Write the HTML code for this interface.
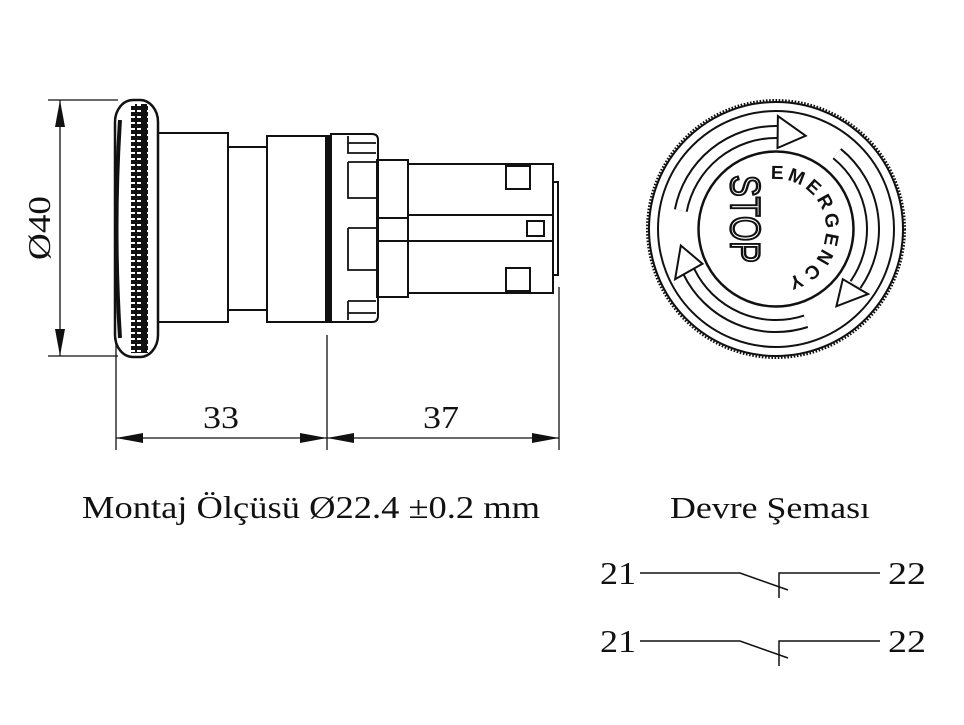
<!DOCTYPE html>
<html><head><meta charset="utf-8"><style>
html,body{margin:0;padding:0;background:#fff}
svg{display:block}
</style></head><body>
<svg width="964" height="725" viewBox="0 0 964 725" xmlns="http://www.w3.org/2000/svg">
<defs>
<pattern id="kn" x="0" y="0" width="16" height="6" patternUnits="userSpaceOnUse">
<rect width="16" height="6" fill="#111"/>
<rect x="3" y="2" width="4" height="2" fill="#fff"/>
<rect x="9" y="2" width="4" height="2" fill="#fff"/>
</pattern>
</defs>
<g fill="none" stroke="#111" stroke-width="2">
<rect x="115" y="100" width="43" height="257" rx="18" ry="22" stroke-width="2.5"/>
<path d="M120 120 Q113 228 120 338" stroke-width="4"/>
<rect x="131" y="104" width="17" height="249" fill="url(#kn)" stroke="none"/>
<rect x="158" y="133" width="70" height="189"/>
<rect x="228" y="147" width="39" height="163"/>
<rect x="267" y="136" width="59" height="186"/>
<line x1="328.5" y1="135" x2="328.5" y2="323" stroke-width="3"/>
<path d="M331 134 H372 Q378 134 378 140 V316 Q378 322 372 322 H331 Z"/>
<g stroke-width="1.8">
<path d="M348 136 V153 H376"/><path d="M348 143 H376"/>
<path d="M348 162 V198 H376"/><path d="M348 162 H376"/>
<path d="M348 228 V270 H376"/><path d="M348 228 H376"/>
<path d="M348 301 V320"/><path d="M348 301 H376"/><path d="M348 313 H376"/>
</g>
<rect x="377" y="160" width="31" height="137"/>
<line x1="377" y1="218" x2="408" y2="218"/>
<line x1="377" y1="241" x2="408" y2="241"/>
<rect x="408" y="164" width="145" height="129"/>
<line x1="408" y1="215" x2="553" y2="215"/>
<line x1="408" y1="241" x2="553" y2="241"/>
<rect x="506" y="166" width="24" height="23"/>
<rect x="527" y="221" width="17" height="15"/>
<rect x="506" y="268" width="24" height="23"/>
<rect x="553" y="182" width="5" height="93"/>
</g>
<g stroke="#111" stroke-width="1.3" fill="none">
<line x1="48" y1="100" x2="118" y2="100"/>
<line x1="48" y1="356" x2="118" y2="356"/>
<line x1="60" y1="100" x2="60" y2="356"/>
<line x1="116" y1="338" x2="116" y2="450"/>
<line x1="327" y1="335" x2="327" y2="450"/>
<line x1="559" y1="287" x2="559" y2="450"/>
<line x1="116" y1="438" x2="559" y2="438"/>
</g>
<g fill="#111">
<polygon points="60,100 55,127 65,127"/>
<polygon points="60,356 55,329 65,329"/>
<polygon points="116,438 143,433 143,443"/>
<polygon points="327,438 300,433 300,443"/>
<polygon points="327,438 354,433 354,443"/>
<polygon points="559,438 532,433 532,443"/>
</g>
<g font-family="Liberation Serif, serif" fill="#111">
<text x="0" y="0" font-size="32" text-anchor="middle" textLength="64" lengthAdjust="spacingAndGlyphs" transform="translate(50,228) rotate(-90)">Ø40</text>
<text x="221" y="428" font-size="32" text-anchor="middle" textLength="36" lengthAdjust="spacingAndGlyphs">33</text>
<text x="441" y="428" font-size="32" text-anchor="middle" textLength="36" lengthAdjust="spacingAndGlyphs">37</text>
<text x="82" y="518" font-size="32" textLength="458" lengthAdjust="spacingAndGlyphs">Montaj Ölçüsü Ø22.4 ±0.2 mm</text>
<text x="670" y="518" font-size="31" textLength="200" lengthAdjust="spacingAndGlyphs">Devre Şeması</text>
<text x="600" y="584" font-size="32" textLength="36" lengthAdjust="spacingAndGlyphs">21</text>
<text x="888" y="584" font-size="32" textLength="38" lengthAdjust="spacingAndGlyphs">22</text>
<text x="600" y="652" font-size="32" textLength="36" lengthAdjust="spacingAndGlyphs">21</text>
<text x="888" y="652" font-size="32" textLength="38" lengthAdjust="spacingAndGlyphs">22</text>
</g>
<g fill="none" stroke="#111">
<circle cx="776" cy="229" r="127" stroke-width="2"/>
<circle cx="776" cy="229" r="128.5" stroke-width="3" stroke-dasharray="1.6 1.6"/>
<circle cx="776" cy="229" r="118" stroke-width="2"/>
<circle cx="776" cy="229" r="77.5" stroke-width="2.5"/>
<g stroke-linecap="butt">
<path d="M680.8,210.5 A97,97 0 0 1 777.7,132.0" stroke-width="14"/>
<path d="M680.8,210.5 A97,97 0 0 1 777.7,132.0" stroke="#fff" stroke-width="10"/>
<path d="M837.0,153.6 A97,97 0 0 1 855.5,284.6" stroke-width="14"/>
<path d="M837.0,153.6 A97,97 0 0 1 855.5,284.6" stroke="#fff" stroke-width="10"/>
<path d="M806.0,321.3 A97,97 0 0 1 688.8,271.5" stroke-width="14"/>
<path d="M806.0,321.3 A97,97 0 0 1 688.8,271.5" stroke="#fff" stroke-width="10"/>
</g>
<g fill="#fff" stroke-width="2">
<polygon points="777.5,148.0 777.9,116.0 805.7,135.8"/>
<polygon points="842.8,279.2 868.1,294.1 836.4,306.3"/>
<polygon points="702.5,263.8 675.1,279.2 680.8,245.5"/>
</g>
</g>
<path id="arc2" d="M776,179 A50,50 0 0 1 776,279" fill="none" transform="rotate(-6 776 229)"/>
<text style="font-family:'Liberation Sans',sans-serif;font-size:19px;font-weight:bold;fill:#111" textLength="150" lengthAdjust="spacing"><textPath href="#arc2" startOffset="0">EMERGENCY</textPath></text>
<text x="0" y="0" style="font-family:'Liberation Sans',sans-serif;font-size:42px;fill:#fff;stroke:#111;stroke-width:2.4" text-anchor="middle" textLength="88" lengthAdjust="spacingAndGlyphs" transform="translate(731,219) rotate(90)">STOP</text>
<g stroke="#111" stroke-width="1.5" fill="none">
<path d="M640 573 H740 L788 590"/><path d="M779 598 V573 H880"/>
<path d="M640 641 H740 L788 658"/><path d="M779 666 V641 H880"/>
</g>
</svg>
</body></html>
